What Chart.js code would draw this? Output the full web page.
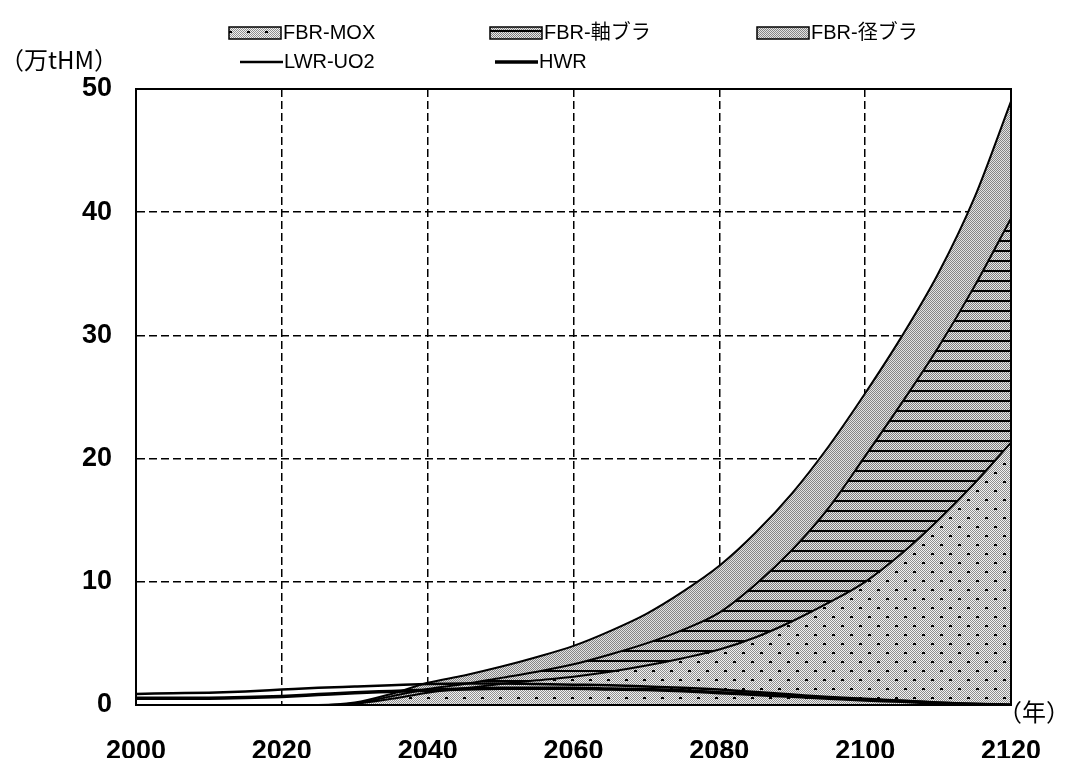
<!DOCTYPE html>
<html lang="ja">
<head>
<meta charset="utf-8">
<title>使用済燃料貯蔵量</title>
<script src="https://cdn.jsdelivr.net/npm/chart.js@4.4.1/dist/chart.umd.min.js"></script>
<style>
html, body { margin: 0; padding: 0; background: #fff; }
#wrap { width: 1066px; height: 758px; }
</style>
</head>
<body>
<div id="wrap"><canvas id="fuelChart" width="1066" height="758"></canvas></div>
<script>
// 年（5年刻み）
const years = [2000, 2005, 2010, 2015, 2020, 2025, 2030, 2035, 2040, 2045, 2050, 2055, 2060,
               2065, 2070, 2075, 2080, 2085, 2090, 2095, 2100, 2105, 2110, 2115, 2120];

// 積み上げ面（万tHM）
const fbrMox    = [0, 0, 0, 0, 0, 0, 0.1, 0.5, 1.0, 1.35, 1.7, 2.0, 2.3, 2.7, 3.2, 3.8, 4.5, 5.5, 6.8, 8.3, 10.0, 12.3, 15.0, 18.0, 21.3];
const fbrAxial  = [0, 0, 0, 0, 0, 0, 0.05, 0.2, 0.3, 0.35, 0.5, 0.7, 1.0, 1.4, 1.8, 2.3, 3.0, 4.3, 5.8, 7.7, 10.2, 12.2, 14.0, 16.0, 18.2];
const fbrRadial = [0, 0, 0, 0, 0, 0, 0.05, 0.2, 0.5, 0.7, 0.9, 1.2, 1.5, 1.9, 2.4, 3.1, 3.8, 4.2, 4.6, 5.0, 5.1, 5.4, 6.0, 7.2, 9.5];

// 折れ線（万tHM）
const lwrUo2 = [0.9, 0.95, 1.0, 1.1, 1.25, 1.4, 1.5, 1.6, 1.7, 1.75, 1.75, 1.7, 1.65, 1.6, 1.5, 1.4, 1.25, 1.05, 0.85, 0.65, 0.5, 0.35, 0.2, 0.1, 0];
const hwr    = [0.55, 0.55, 0.55, 0.6, 0.7, 0.85, 1.0, 1.1, 1.2, 1.3, 1.35, 1.35, 1.35, 1.3, 1.25, 1.15, 1.0, 0.85, 0.7, 0.55, 0.4, 0.3, 0.15, 0.05, 0];

const xTicks = [2000, 2020, 2040, 2060, 2080, 2100, 2120];
const yTicks = [0, 10, 20, 30, 40, 50];

const toPoints = (vals) => years.map((yr, i) => ({ x: yr, y: vals[i] }));

// --- ハッチング用タイル ---
const makeTile = (w, h, draw) => {
    const c = document.createElement("canvas");
    c.width = w;
    c.height = h;
    draw(c.getContext("2d"), w, h);
    return c;
};

const checker = (g, w, h, dark, light) => {
    g.fillStyle = light;
    g.fillRect(0, 0, w, h);
    g.fillStyle = dark;
    for (let y = 0; y < h; y++) {
        for (let x = y % 2; x < w; x += 2) g.fillRect(x, y, 1, 1);
    }
};

const canvas = document.getElementById("fuelChart");
const ctx = canvas.getContext("2d");

// MOX: 細かい網点 + 黒い点
const moxTile = makeTile(18, 18, (g, w, h) => {
    checker(g, w, h, "#8e8e8e", "#f2f2f2");
    g.fillStyle = "#000";
    g.fillRect(4, 4, 3, 2);
    g.fillRect(13, 13, 3, 2);
});
// 軸ブラ: 網点 + 横縞
const axialTile = makeTile(10, 10, (g, w, h) => {
    checker(g, w, h, "#7e7e7e", "#e8e8e8");
    g.fillStyle = "#000";
    g.fillRect(0, 0, w, 2);
});
// 径ブラ: 網点のみ
const radialTile = makeTile(4, 4, (g, w, h) => {
    checker(g, w, h, "#858585", "#e2e2e2");
});

const moxPattern = ctx.createPattern(moxTile, "repeat");
const axialPattern = ctx.createPattern(axialTile, "repeat");
const radialPattern = ctx.createPattern(radialTile, "repeat");

const labelFont = '20px "Liberation Sans", "Noto Sans CJK JP", sans-serif';
const unitFont = '24px "Noto Sans CJK JP", "Liberation Sans", sans-serif';
const tickFont = { family: '"Liberation Sans", Arial, sans-serif', size: 27, weight: "bold" };

// 凡例（3列のグリッド配置）
const legendSlots = [
    { x: 229, y: 33 }, { x: 490, y: 33 }, { x: 757, y: 33 },
    { x: 240, y: 62 }, { x: 495, y: 62 },
];

const frameAndLegend = {
    id: "frameAndLegend",
    afterDraw(chart) {
        const { ctx: c, chartArea: a } = chart;
        c.save();

        // 枠
        c.strokeStyle = "#000";
        c.lineWidth = 2;
        c.setLineDash([]);
        c.strokeRect(a.left, a.top, a.right - a.left, a.bottom - a.top);

        // 単位
        c.fillStyle = "#000";
        c.font = unitFont;
        c.textBaseline = "middle";
        c.textAlign = "left";
        c.fillText("（万tHM）", 0, 60);
        c.fillText("（年）", 998, 712);

        // 凡例
        c.font = labelFont;
        chart.data.datasets.forEach((ds, i) => {
            const s = legendSlots[i];
            let textX;
            if (ds.fill) {
                c.fillStyle = ds.backgroundColor;
                c.fillRect(s.x, s.y - 6, 52, 12);
                c.lineWidth = 1.5;
                c.strokeStyle = "#000";
                c.strokeRect(s.x, s.y - 6, 52, 12);
                textX = s.x + 54;
            } else {
                c.strokeStyle = "#000";
                c.lineWidth = ds.borderWidth;
                c.beginPath();
                c.moveTo(s.x, s.y);
                c.lineTo(s.x + 43, s.y);
                c.stroke();
                textX = s.x + 44;
            }
            c.fillStyle = "#000";
            c.fillText(ds.label, textX, s.y);
        });

        c.restore();
    },
};

const areaStyle = {
    stack: "fbr",
    order: 1,
    borderColor: "#000",
    borderWidth: 2,
    pointRadius: 0,
    cubicInterpolationMode: "monotone",
};

const lineStyle = {
    order: 0,
    borderColor: "#000",
    backgroundColor: "#000",
    fill: false,
    pointRadius: 0,
    cubicInterpolationMode: "monotone",
};

new Chart(ctx, {
    type: "line",
    data: {
        datasets: [
            { ...areaStyle, label: "FBR-MOX", data: toPoints(fbrMox), backgroundColor: moxPattern, fill: "origin" },
            { ...areaStyle, label: "FBR-軸ブラ", data: toPoints(fbrAxial), backgroundColor: axialPattern, fill: "-1" },
            { ...areaStyle, label: "FBR-径ブラ", data: toPoints(fbrRadial), backgroundColor: radialPattern, fill: "-1" },
            { ...lineStyle, label: "LWR-UO2", data: toPoints(lwrUo2), stack: "lwr", borderWidth: 2.5 },
            { ...lineStyle, label: "HWR", data: toPoints(hwr), stack: "hwr", borderWidth: 3.5 },
        ],
    },
    options: {
        responsive: false,
        animation: false,
        devicePixelRatio: 1,
        layout: { padding: { top: 89, right: 55, left: 0, bottom: 0 } },
        plugins: { legend: { display: false }, tooltip: { enabled: false } },
        scales: {
            x: {
                type: "linear",
                min: 2000,
                max: 2120,
                afterFit: (scale) => {
                    scale.height = 53;
                    // 端の目盛ラベル分の余白は付けない
                    scale.paddingLeft = 0;
                    scale.paddingRight = 0;
                },
                afterBuildTicks: (scale) => { scale.ticks = xTicks.map((v) => ({ value: v })); },
                ticks: { color: "#000", font: tickFont, padding: 30, maxRotation: 0, callback: (v) => String(v) },
                grid: { color: "#000", lineWidth: 1.5, drawTicks: false },
                border: { color: "#000", width: 2, dash: [8, 4] },
            },
            y: {
                stacked: true,
                min: 0,
                max: 50,
                afterFit: (scale) => { scale.width = 136; },
                afterBuildTicks: (scale) => { scale.ticks = yTicks.map((v) => ({ value: v })); },
                ticks: { color: "#000", font: tickFont, padding: 24 },
                grid: { color: "#000", lineWidth: 1.5, drawTicks: false },
                border: { color: "#000", width: 2, dash: [8, 4] },
            },
        },
    },
    plugins: [frameAndLegend],
});
</script>
</body>
</html>
